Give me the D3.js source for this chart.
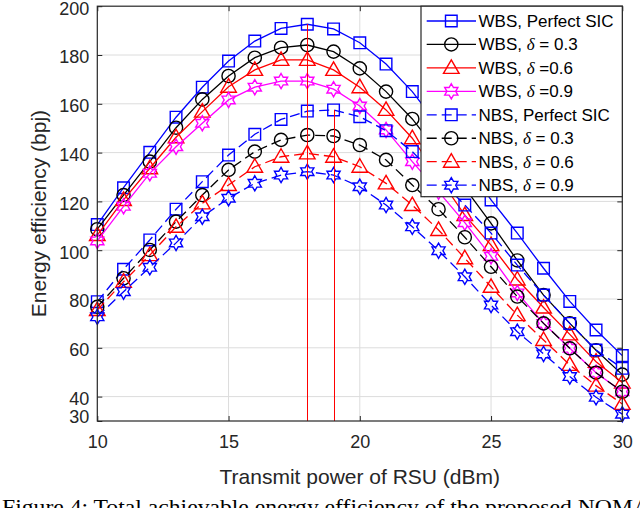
<!DOCTYPE html>
<html><head><meta charset="utf-8">
<script src="https://cdn.jsdelivr.net/npm/d3@7"></script>
<style>
html,body{margin:0;padding:0;background:#fff;}
svg{display:block;}
text{font-family:"Liberation Sans",Arial,Helvetica,sans-serif;}
</style></head>
<body>
<svg id="chart" width="640" height="508"></svg>
<script>
// ---- data ----
const txPower = [10,11,12,13,14,15,16,17,18,19,20,21,22,23,24,25,26,27,28,29,30];
const wbsPerfect = [110.5,125.6,140.1,154.5,166.8,177.5,185.7,190.9,192.6,190.7,185.0,176.3,165.0,151.0,136.0,120.6,107.0,92.6,79.0,67.3,56.8];
const wbs03 = [108.6,122.6,136.3,150.2,161.8,171.4,178.9,183.0,184.1,181.4,174.5,165.0,153.8,140.0,125.5,111.0,95.8,81.6,70.0,59.0,49.0];
const wbs06 = [106.2,120.6,133.6,146.3,156.8,167.0,173.9,178.0,178.0,173.9,166.8,157.5,145.9,130.0,114.4,102.1,88.0,76.5,65.5,54.3,45.8];
const wbs09 = [103.8,118.0,131.5,142.4,152.0,161.6,166.8,169.3,169.3,166.0,159.1,149.3,136.3,124.0,111.3,97.5,82.5,70.0,59.8,49.8,42.0];
const nbsPerfect = [78.9,92.2,104.2,116.8,128.1,139.0,147.5,153.6,157.0,157.5,154.7,149.0,140.4,129.5,118.5,107.0,93.9,81.6,70.0,59.1,51.6];
const nbs03 = [76.8,88.5,100.1,111.7,122.6,132.9,140.4,145.2,147.2,146.8,143.1,137.0,126.7,116.8,105.3,93.2,81.0,70.0,59.8,49.8,42.0];
const nbs06 = [75.5,87.1,98.0,109.6,119.2,126.7,134.2,138.3,139.7,138.3,134.2,127.4,118.5,108.3,96.7,85.0,73.4,63.2,53.0,44.5,37.0];
const nbs09 = [72.7,83.0,93.0,103.0,113.7,121.3,127.4,130.8,132.2,130.8,126.0,118.5,109.6,99.8,89.1,77.5,66.6,57.5,48.2,39.7,32.8];
const optimumX = [18, 19];
const optimumY = [192.6, 157.5];
const xTicks = [10,15,20,25,30];
const yTicks = [30,40,60,80,100,120,140,160,180,200];
const legendPrefix = ["WBS, ","WBS, ","WBS, ","WBS, ","NBS, ","NBS, ","NBS, ","NBS, "];
const legendSuffix = ["Perfect SIC"," = 0.3"," =0.6"," =0.9","Perfect SIC"," = 0.3"," = 0.6"," = 0.9"];
const xLabel = "Transmit power of RSU (dBm)";
const yLabel = "Energy efficiency (bpj)";
const caption = "Figure 4: Total achievable energy efficiency of the proposed NOMA";

// ---- series styling ----
const series = [
  {v: wbsPerfect, color:"#0000ff", marker:"square", dash:null},
  {v: wbs03, color:"#000000", marker:"circle", dash:null},
  {v: wbs06, color:"#ff0000", marker:"triangle", dash:null},
  {v: wbs09, color:"#ff00ff", marker:"hexagram", dash:null},
  {v: nbsPerfect, color:"#0000ff", marker:"square", dash:"10,5"},
  {v: nbs03, color:"#000000", marker:"circle", dash:"10,5"},
  {v: nbs06, color:"#ff0000", marker:"triangle", dash:"10,5"},
  {v: nbs09, color:"#0000ff", marker:"hexagram", dash:"10,5"}
];

const svg = d3.select("#chart");
svg.append("rect").attr("width",640).attr("height",508).attr("fill","#fff");

const L = 97.3, R = 622.3, T = 6.2, B = 421;
const x = d3.scaleLinear().domain([10,30]).range([L,R]);
const y = d3.scaleLinear().domain([30,200]).range([B,T]);
const axisColor = "#262626";

// grid
const grid = svg.append("g");
grid.selectAll("line.gx").data(xTicks.filter(t=>t>10&&t<30)).enter().append("line")
  .attr("x1",d=>x(d)).attr("x2",d=>x(d)).attr("y1",T).attr("y2",B)
  .attr("stroke","#dcdcdc").attr("stroke-width",1);
grid.selectAll("line.gy").data(yTicks.filter(t=>t>30&&t<200)).enter().append("line")
  .attr("y1",d=>y(d)).attr("y2",d=>y(d)).attr("x1",L).attr("x2",R)
  .attr("stroke","#dcdcdc").attr("stroke-width",1);

// markers
function markerPath(type){
  if(type==="square"){ const s=5.8; return `M${-s},${-s}H${s}V${s}H${-s}Z`; }
  if(type==="circle"){ const r=6.6; return `M${r},0A${r},${r} 0 1,1 ${-r},0A${r},${r} 0 1,1 ${r},0Z`; }
  if(type==="triangle"){ const r=9; const p=[-90,30,150].map(a=>[r*Math.cos(a*Math.PI/180), r*Math.sin(a*Math.PI/180)+1]); return "M"+p.map(q=>q.join(",")).join("L")+"Z"; }
  if(type==="hexagram"){ const Ro=7.6, Ri=Ro/Math.sqrt(3); const pts=[];
    for(let k=0;k<12;k++){ const a=(-90+k*30)*Math.PI/180; const rr = k%2===0?Ro:Ri; pts.push([rr*Math.cos(a), rr*Math.sin(a)]); }
    return "M"+pts.map(q=>q.map(n=>n.toFixed(2)).join(",")).join("L")+"Z"; }
}

const line = d3.line().x((d,i)=>x(txPower[i])).y(d=>y(d));
const plot = svg.append("g");
series.forEach(s=>{
  const g = plot.append("g");
  g.append("path").datum(s.v).attr("d",line).attr("fill","none")
    .attr("stroke",s.color).attr("stroke-width",1.3)
    .attr("stroke-dasharray", s.dash);
  g.selectAll("path.m").data(s.v).enter().append("path")
    .attr("transform",(d,i)=>`translate(${x(txPower[i])},${y(d)})`)
    .attr("d",markerPath(s.marker)).attr("fill","none")
    .attr("stroke",s.color).attr("stroke-width",1.4);
});

// optimum vertical lines
svg.selectAll("line.opt").data(optimumX).enter().append("line")
  .attr("x1",d=>Math.round(x(d))+0.5).attr("x2",d=>Math.round(x(d))+0.5)
  .attr("y1",(d,i)=>y(optimumY[i])).attr("y2",y(30))
  .attr("stroke","#ff0000").attr("stroke-width",1).attr("shape-rendering","crispEdges");

// axes
const fontTick = 18;
const xAxis = svg.append("g").attr("transform",`translate(0,${B})`)
  .call(d3.axisBottom(x).tickValues(xTicks).tickSizeInner(-5).tickSizeOuter(0).tickFormat(d3.format("d")));
xAxis.selectAll("text").attr("y",27).attr("dy",0).attr("font-size",fontTick).attr("fill",axisColor)
  .style("font-family",'"Liberation Sans",Arial,sans-serif');
const yAxis = svg.append("g").attr("transform",`translate(${L},0)`)
  .call(d3.axisLeft(y).tickValues(yTicks).tickSizeInner(-5).tickSizeOuter(0).tickFormat(d3.format("d")));
yAxis.selectAll("text").attr("x",-8).attr("dy",d=>d===30?1.5:7.8).attr("font-size",fontTick).attr("fill",axisColor)
  .style("font-family",'"Liberation Sans",Arial,sans-serif');
svg.append("g").attr("transform",`translate(0,${T})`)
  .call(d3.axisTop(x).tickValues(xTicks).tickSizeInner(-5).tickSizeOuter(0).tickFormat(""));
svg.append("g").attr("transform",`translate(${R},0)`)
  .call(d3.axisRight(y).tickValues(yTicks).tickSizeInner(-5).tickSizeOuter(0).tickFormat(""));
svg.selectAll(".domain").remove();
svg.selectAll(".tick line").attr("stroke",axisColor).attr("stroke-width",1);
svg.append("rect").attr("x",L).attr("y",T).attr("width",R-L).attr("height",B-T)
  .attr("fill","none").attr("stroke",axisColor).attr("stroke-width",1.2);

// axis labels
svg.append("text").attr("x",(L+R)/2).attr("y",484).attr("text-anchor","middle")
  .attr("font-size",21).attr("fill",axisColor).text(xLabel);
svg.append("text").attr("transform",`translate(46,${(T+B)/2}) rotate(-90)`).attr("text-anchor","middle")
  .attr("font-size",21).attr("fill",axisColor).text(yLabel);

// legend
const lg = svg.append("g");
const lgX = 421, lgW = R - 421, lgTop = T, lgH = 190.5;
lg.append("rect").attr("x",lgX).attr("y",lgTop).attr("width",lgW).attr("height",lgH)
  .attr("fill","#fff").attr("stroke",axisColor).attr("stroke-width",1.2);
series.forEach((s,i)=>{
  const cy = 21 + i*23.45;
  lg.append("line").attr("x1",426.7).attr("x2",476).attr("y1",cy).attr("y2",cy)
    .attr("stroke",s.color).attr("stroke-width",1.3).attr("stroke-dasharray",s.dash);
  lg.append("path").attr("transform",`translate(451.3,${cy})`).attr("d",markerPath(s.marker))
    .attr("fill","none").attr("stroke",s.color).attr("stroke-width",1.4);
  const t = lg.append("text").attr("x",478.5).attr("y",cy+6).attr("font-size",17).attr("fill","#000");
  t.append("tspan").text(legendPrefix[i]);
  if(legendSuffix[i].indexOf("=")>=0){
    t.append("tspan").attr("font-style","italic").style("font-family",'"Liberation Serif","Times New Roman",serif').text("\u03B4");
  }
  t.append("tspan").text(legendSuffix[i]);
});

// caption (cut off at bottom, as in the reference)
svg.append("text").attr("x",2).attr("y",514).attr("font-size",22)
  .attr("textLength",648).attr("lengthAdjust","spacingAndGlyphs")
  .style("font-family",'"Liberation Serif","Times New Roman",serif').attr("fill","#000").text(caption);
</script>
</body></html>
